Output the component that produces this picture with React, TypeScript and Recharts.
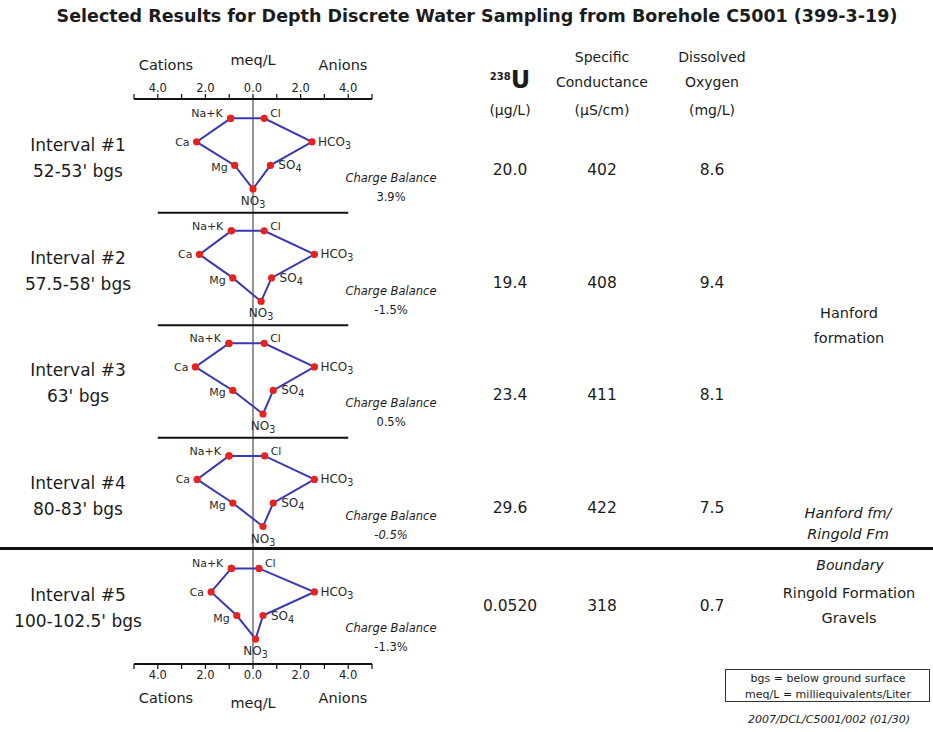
import React from 'react';
import { ScatterChart, Scatter, XAxis, YAxis, ReferenceLine } from 'recharts';

// Sampled intervals
const intervalNames = ['Interval #1', 'Interval #2', 'Interval #3', 'Interval #4', 'Interval #5'];
const depths = ["52-53' bgs", "57.5-58' bgs", "63' bgs", "80-83' bgs", "100-102.5' bgs"];

// Major ions, meq/L (cations on the left, anions on the right)
const naK = [0.94, 0.91, 1.01, 1.01, 0.91];
const ca = [2.37, 2.25, 2.42, 2.35, 1.76];
const mg = [0.77, 0.85, 0.85, 0.85, 0.68];
const cl = [0.47, 0.47, 0.47, 0.49, 0.25];
const hco3 = [2.48, 2.58, 2.58, 2.58, 2.58];
const so4 = [0.73, 0.78, 0.85, 0.85, 0.42];
const no3 = [0.0, 0.34, 0.42, 0.42, 0.11];

// Tabulated results
const uranium = ['20.0', '19.4', '23.4', '29.6', '0.0520'];
const conductance = ['402', '408', '411', '422', '318'];
const oxygen = ['8.6', '9.4', '8.1', '7.5', '0.7'];
const chargeBalance = ['3.9%', '-1.5%', '0.5%', '-0.5%', '-1.3%'];

// Axis ticks (meq/L); labels every 2.0
const meqTicks = [-5, -4, -3, -2, -1, 0, 1, 2, 3, 4, 5];

const FONT = '"DejaVu Sans", "Open Sans", sans-serif';
const BLOCK = 4.78; // rows per interval block
const FIRST = 0.82; // first ion row offset within a block
const Y_MAX = 24.0;

// chart geometry (plot area in page pixels)
const PLOT_TOP = 99;
const BLOCK_PX = 112.5;

type Pt = { x: number; y: number; ion: string };

function stiffPolygon(i: number): Pt[] {
  const base = i * BLOCK + FIRST;
  return [
    { x: -naK[i], y: base + 0, ion: 'Na+K' },
    { x: -ca[i], y: base + 1, ion: 'Ca' },
    { x: -mg[i], y: base + 2, ion: 'Mg' },
    { x: no3[i], y: base + 3, ion: 'NO3' },
    { x: so4[i], y: base + 2, ion: 'SO4' },
    { x: hco3[i], y: base + 1, ion: 'HCO3' },
    { x: cl[i], y: base + 0, ion: 'Cl' },
    { x: -naK[i], y: base + 0, ion: '' },
  ];
}

const LABELS: Record<string, { dx: number; dy: number; anchor: 'start' | 'end' | 'middle'; main: string; sub?: string; size: number }> = {
  'Na+K': { dx: -8, dy: -5, anchor: 'end', main: 'Na+K', size: 11 },
  Cl: { dx: 6, dy: -5, anchor: 'start', main: 'Cl', size: 11 },
  Ca: { dx: -7, dy: 0, anchor: 'end', main: 'Ca', size: 11 },
  HCO3: { dx: 6, dy: 0, anchor: 'start', main: 'HCO', sub: '3', size: 12 },
  Mg: { dx: -7, dy: 2, anchor: 'end', main: 'Mg', size: 11 },
  SO4: { dx: 8, dy: 0, anchor: 'start', main: 'SO', sub: '4', size: 12 },
  NO3: { dx: 0, dy: 12, anchor: 'middle', main: 'NO', sub: '3', size: 12 },
};

function IonPoint(props: any) {
  const { cx, cy, payload } = props;
  const lab = payload && payload.ion ? LABELS[payload.ion] : null;
  return (
    <g>
      <circle cx={cx} cy={cy} r={3.6} fill="#e8221c" />
      {lab && (
        <text
          x={cx + lab.dx}
          y={cy + lab.dy}
          textAnchor={lab.anchor}
          dominantBaseline="central"
          fontSize={lab.size}
          fontFamily={FONT}
          fill="#2a2a2a"
        >
          <tspan>{lab.main}</tspan>
          {lab.sub && (
            <tspan dy={3} fontSize={lab.size * 0.8}>
              {lab.sub}
            </tspan>
          )}
        </text>
      )}
    </g>
  );
}

const tickFmt = (v: number) => (Math.abs(v) <= 4 && Math.abs(v) % 2 === 0 ? Math.abs(v).toFixed(1) : '');

function T({
  x,
  y,
  size = 14,
  italic = false,
  bold = false,
  children,
}: {
  x: number;
  y: number;
  size?: number;
  italic?: boolean;
  bold?: boolean;
  children: React.ReactNode;
}) {
  return (
    <div
      style={{
        position: 'absolute',
        left: x,
        top: y,
        transform: 'translate(-50%, -50%)',
        whiteSpace: 'nowrap',
        fontSize: size,
        lineHeight: 1,
        fontStyle: italic ? 'italic' : 'normal',
        fontWeight: bold ? 'bold' : 'normal',
        color: '#1c1c1c',
      }}
    >
      {children}
    </div>
  );
}

const axisProps = {
  type: 'number' as const,
  dataKey: 'x',
  domain: [-5, 5] as [number, number],
  ticks: meqTicks,
  interval: 0 as const,
  height: 30,
  tickFormatter: tickFmt,
  tickSize: 5,
  axisLine: { stroke: '#111', strokeWidth: 2 },
  tickLine: { stroke: '#111', strokeWidth: 1.2 },
  tick: { fontSize: 11.5, fill: '#222', fontFamily: FONT },
};

export default function App() {
  const blockTop = (i: number) => PLOT_TOP + i * BLOCK_PX;
  return (
    <div style={{ position: 'relative', width: 933, height: 732, background: '#fff', fontFamily: FONT, overflow: 'hidden' }}>
      <style>{'body{margin:0}'}</style>

      <T x={477} y={17} size={17.5} bold>
        Selected Results for Depth Discrete Water Sampling from Borehole C5001 (399-3-19)
      </T>

      <div style={{ position: 'absolute', left: 0, top: 0 }}>
        <ScatterChart width={933} height={732} margin={{ top: 69, right: 561, bottom: 38, left: 134 }}>
          <XAxis xAxisId="top" orientation="top" {...axisProps} />
          <XAxis xAxisId="bottom" orientation="bottom" {...axisProps} />
          <YAxis yAxisId="y" type="number" dataKey="y" domain={[0, Y_MAX]} reversed hide width={0} />

          <ReferenceLine xAxisId="bottom" yAxisId="y" x={0} stroke="#7a7a7a" strokeWidth={1.6} />
          {[1, 2, 3].map((k) => (
            <ReferenceLine
              key={k}
              xAxisId="bottom"
              yAxisId="y"
              segment={[
                { x: -4, y: k * BLOCK + 0.05 },
                { x: 4, y: k * BLOCK + 0.05 },
              ]}
              stroke="#111"
              strokeWidth={2}
            />
          ))}

          {intervalNames.map((name, i) => (
            <Scatter
              key={name}
              name={name}
              xAxisId={i === 0 ? 'top' : 'bottom'}
              yAxisId="y"
              data={stiffPolygon(i)}
              line={{ stroke: '#3838b8', strokeWidth: 2 }}
              lineType="joint"
              shape={<IonPoint />}
              isAnimationActive={false}
            />
          ))}
        </ScatterChart>
      </div>

      {/* thick boundary between Hanford formation and Ringold gravels */}
      <div style={{ position: 'absolute', left: 0, top: 547, width: 933, height: 3, background: '#111' }} />

      {/* meq/L axis captions */}
      <T x={166} y={65} size={14.5}>Cations</T>
      <T x={253} y={60} size={14.5}>meq/L</T>
      <T x={343} y={65} size={14.5}>Anions</T>
      <T x={166} y={698} size={14.5}>Cations</T>
      <T x={253} y={703} size={14.5}>meq/L</T>
      <T x={343} y={698} size={14.5}>Anions</T>

      {/* column headers */}
      <div
        style={{
          position: 'absolute',
          left: 510,
          top: 80,
          transform: 'translate(-50%, -50%)',
          whiteSpace: 'nowrap',
          lineHeight: 1,
          color: '#1c1c1c',
        }}
      >
        <span style={{ fontSize: 10, fontWeight: 'bold', verticalAlign: 8 }}>238</span>
        <span style={{ fontSize: 24, fontWeight: 'bold' }}>U</span>
      </div>
      <T x={510} y={110} size={14}>(µg/L)</T>
      <T x={602} y={57} size={14}>Specific</T>
      <T x={602} y={82} size={14}>Conductance</T>
      <T x={602} y={110} size={14}>(µS/cm)</T>
      <T x={712} y={57} size={14}>Dissolved</T>
      <T x={712} y={82} size={14}>Oxygen</T>
      <T x={712} y={110} size={14}>(mg/L)</T>

      {intervalNames.map((name, i) => {
        const top = blockTop(i);
        const vy = i === 4 ? top + 58 : top + 72;
        return (
          <React.Fragment key={name}>
            <T x={78} y={top + 46} size={17}>{name}</T>
            <T x={78} y={top + 72} size={17}>{depths[i]}</T>
            <T x={391} y={top + 80} size={11.5} italic>Charge Balance</T>
            <T x={391} y={top + 99} size={11.5} italic={i === 3}>{chargeBalance[i]}</T>
            <T x={510} y={vy} size={15.5}>{uranium[i]}</T>
            <T x={602} y={vy} size={15.5}>{conductance[i]}</T>
            <T x={712} y={vy} size={15.5}>{oxygen[i]}</T>
          </React.Fragment>
        );
      })}

      {/* geologic units */}
      <T x={849} y={313} size={14.5}>Hanford</T>
      <T x={849} y={338} size={14.5}>formation</T>
      <T x={848} y={513} size={14.5} italic>Hanford fm/</T>
      <T x={848} y={534} size={14.5} italic>Ringold Fm</T>
      <T x={850} y={565} size={14} italic>Boundary</T>
      <T x={849} y={593} size={14.5}>Ringold Formation</T>
      <T x={849} y={618} size={14.5}>Gravels</T>

      {/* abbreviations box */}
      <div
        style={{
          position: 'absolute',
          left: 725,
          top: 669,
          width: 205,
          height: 33,
          border: '1.5px solid #333',
          boxSizing: 'border-box',
        }}
      />
      <T x={828} y={678} size={11}>bgs = below ground surface</T>
      <T x={828} y={694} size={11}>meq/L = milliequivalents/Liter</T>
      <T x={829} y={719} size={11} italic>2007/DCL/C5001/002 (01/30)</T>
    </div>
  );
}
